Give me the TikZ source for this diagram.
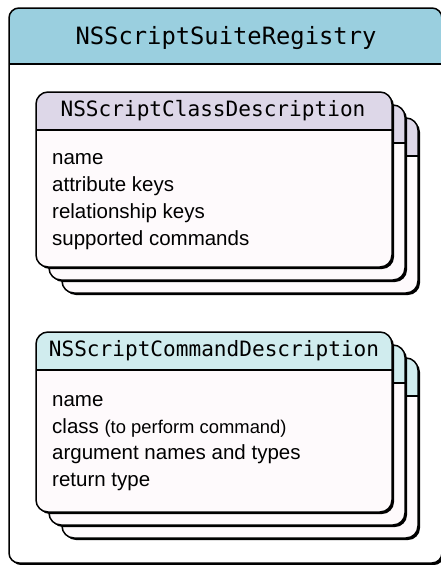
\documentclass[tikz,border=0pt]{standalone}
\usepackage{fontspec}
\setmainfont{Liberation Sans}
\newfontfamily\monof{DejaVu Sans Mono}
\definecolor{titlec}{RGB}{154,207,223}
\definecolor{classc}{RGB}{221,215,232}
\definecolor{cmdc}{RGB}{208,236,238}
\definecolor{bodyc}{RGB}{254,250,252}
\tikzset{
  edge/.style={draw=black, line width=1.5pt},
  titletext/.style={font=\monof\fontsize{23.8}{26}\selectfont, inner sep=0pt},
  headtext/.style={font=\monof\fontsize{21.1}{24}\selectfont, inner sep=0pt},
  bodytext/.style={font=\fontsize{20.5}{26.7}\selectfont, align=left, inner sep=0pt, anchor=base west},
}
% #1 x, #2 y, #3 w, #4 h, #5 header height, #6 header colour
\newcommand\mycard[6]{%
  \fill[black, rounded corners=12pt] ({#1+2},{#2+2}) rectangle ++(#3,#4);
  \fill[bodyc, rounded corners=12pt] (#1,#2) rectangle ++(#3,#4);
  \begin{scope}
    \clip[rounded corners=12pt] (#1,#2) rectangle ++(#3,#4);
    \fill[#6] (#1,#2) rectangle ++(#3,#5);
  \end{scope}
  \draw[edge] (#1,{#2+#5}) -- ++(#3,0);
  \draw[edge, rounded corners=12pt] (#1,#2) rectangle ++(#3,#4);
}
\begin{document}
\begin{tikzpicture}[x=1pt, y=-1pt]
\useasboundingbox (0,0) rectangle (440,565);
% outer registry box
\fill[black, rounded corners=10pt] (11,10) rectangle (444,565);
\fill[white, rounded corners=10pt] (9,8) rectangle (442,563);
\begin{scope}
  \clip[rounded corners=10pt] (9,8) rectangle (442,563);
  \fill[titlec] (9,8) rectangle (442,64);
\end{scope}
\draw[edge] (9,64) -- (442,64);
\draw[edge, rounded corners=10pt] (9,8) rectangle (442,563);
\node[titletext] (reg) at (226,38) {NSScriptSuiteRegistry};
% class description stack
\mycard{62}{118}{356}{175}{38}{classc}
\mycard{49}{105}{356}{175}{38}{classc}
\mycard{36}{92}{356}{175}{38}{classc}
\node[headtext] (clsh) at (213,111) {NSScriptClassDescription};
\node[bodytext] (clsb) at (52,245) {name\\attribute keys\\relationship keys\\supported commands};
% command description stack
\mycard{62}{358}{356}{180}{38}{cmdc}
\mycard{49}{345}{356}{180}{38}{cmdc}
\mycard{36}{332}{356}{180}{38}{cmdc}
\node[headtext] (cmdh) at (214,351) {NSScriptCommandDescription};
\node[bodytext] (cmdb) at (52,486.5) {name\\class {\fontsize{18.4}{20}\selectfont(to perform command)}\\argument names and types\\return type};
\end{tikzpicture}
\end{document}
